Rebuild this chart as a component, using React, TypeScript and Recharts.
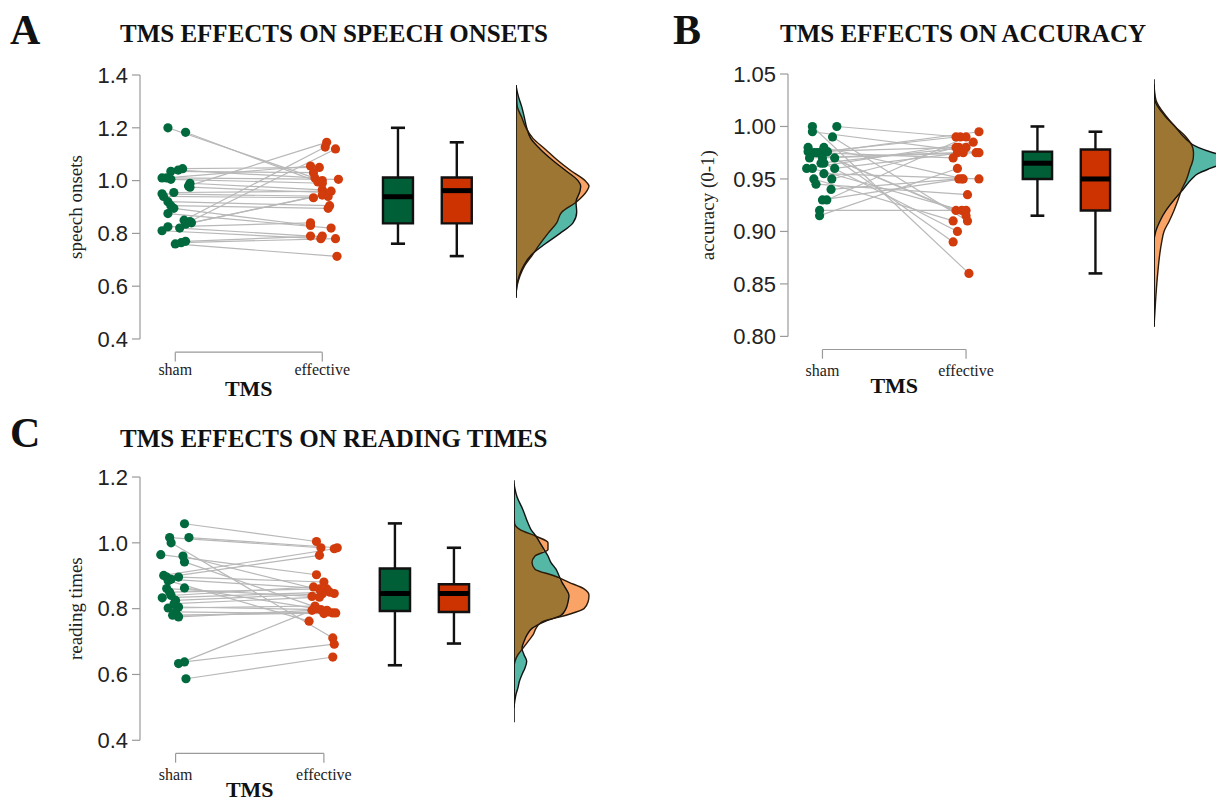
import React from 'react';
import { ComposedChart, Scatter, XAxis, YAxis, ReferenceArea, ReferenceLine, Area, Line } from 'recharts';

const SERIF = '"Liberation Serif", "Times New Roman", serif';
const SANS = '"Liberation Sans", Arial, sans-serif';

const GREEN = '#00693E';
const RED = '#D23B0C';
const BOX_GREEN = '#005F37';
const BOX_RED = '#CC3300';
const TEAL = '#55B7A5';
const ORANGE = '#F9A466';
const BROWN = '#9D7633';
const AXIS = '#9a9a9a';
const PAIR = '#b8b8b8';

const conditions = ['sham', 'effective'];
const panelLetters = ['A', 'B', 'C'];
const panelTitles = ['TMS EFFECTS ON SPEECH ONSETS', 'TMS EFFECTS ON ACCURACY', 'TMS EFFECTS ON READING TIMES'];
const yLabels = ['speech onsets', 'accuracy (0-1)', 'reading times'];

// A: speech onsets
const onsetsSham = [1.200, 1.183, 1.045, 1.040, 1.035, 1.010, 1.005, 1.010, 0.990, 0.980, 0.975, 0.955, 0.950, 0.940, 0.920, 0.905, 0.895, 0.875, 0.850, 0.845, 0.840, 0.835, 0.825, 0.820, 0.810, 0.770, 0.765, 0.760];
const onsetsShamX = [0.95, 1.07, 1.05, 1.02, 0.97, 0.91, 0.97, 0.94, 1.10, 1.09, 1.10, 0.99, 0.91, 0.92, 0.95, 0.97, 0.99, 0.95, 1.06, 1.10, 1.11, 1.07, 0.95, 1.03, 0.91, 1.07, 1.04, 1.00];
const onsetsEff = [1.000, 0.995, 1.050, 1.010, 1.030, 1.005, 0.990, 1.055, 0.965, 1.145, 0.955, 0.960, 0.940, 0.935, 0.905, 0.895, 0.830, 0.820, 1.127, 1.120, 0.950, 0.945, 0.840, 0.790, 0.780, 0.790, 0.780, 0.713];
const onsetsEffX = [2.00, 1.97, 1.98, 1.95, 1.94, 2.11, 2.00, 1.92, 2.00, 2.03, 2.01, 2.06, 2.04, 1.94, 2.05, 2.04, 1.92, 2.06, 2.02, 2.09, 2.03, 2.00, 1.92, 1.92, 1.99, 2.00, 2.09, 2.10];
const onsetsBoxSham = [0.761, 0.838, 0.939, 1.012, 1.200];
const onsetsBoxEff = [0.714, 0.838, 0.962, 1.012, 1.145];
const onsetsGrid = [1.36, 1.32, 1.28, 1.24, 1.20, 1.16, 1.12, 1.08, 1.04, 1.00, 0.98, 0.96, 0.92, 0.88, 0.84, 0.80, 0.76, 0.72, 0.68, 0.64, 0.60, 0.56];
const onsetsDensSham = [0, 2.3, 5.7, 8.3, 10.7, 14.7, 24, 35.7, 49, 62, 64.7, 64, 60, 60.7, 57, 44, 29, 15.7, 8, 3.3, 0.7, 0];
const onsetsDensEff = [0, 0.5, 1.3, 5.7, 10, 17, 29, 40.7, 54, 69, 73, 70.7, 60.7, 45.7, 40.7, 32, 24, 16.7, 9, 4, 1, 0];

// B: accuracy
const accSham = [1.000, 0.995, 1.000, 0.990, 0.980, 0.976, 0.975, 0.975, 0.980, 0.976, 0.970, 0.970, 0.960, 0.960, 0.965, 0.965, 0.960, 0.955, 0.950, 0.945, 0.950, 0.940, 0.930, 0.930, 0.920, 0.915, 0.975, 0.970];
const accShamX = [0.93, 0.93, 1.10, 1.07, 0.90, 0.90, 0.94, 0.98, 1.01, 1.035, 1.085, 0.91, 0.89, 0.93, 0.99, 1.01, 1.085, 1.01, 0.94, 0.955, 1.065, 1.06, 1.00, 1.03, 0.98, 0.98, 0.96, 1.00];
const accEff = [0.860, 0.975, 0.990, 0.910, 0.920, 0.980, 0.990, 0.915, 0.950, 0.995, 0.890, 0.975, 0.985, 0.920, 0.980, 0.900, 0.975, 0.950, 0.910, 0.935, 0.980, 0.950, 0.950, 0.990, 0.920, 0.960, 0.970, 0.975];
const accEffX = [2.02, 2.07, 1.96, 2.01, 1.93, 1.95, 1.93, 2.00, 1.98, 2.09, 1.91, 1.94, 2.05, 1.97, 2.00, 1.94, 1.98, 2.09, 1.91, 2.01, 1.93, 1.95, 1.97, 2.00, 2.00, 1.94, 1.91, 2.09];
const accBoxSham = [0.915, 0.950, 0.965, 0.976, 1.000];
const accBoxEff = [0.860, 0.920, 0.950, 0.978, 0.995];
const accGrid = [1.04, 1.025, 1.01, 1.00, 0.99, 0.98, 0.975, 0.97, 0.965, 0.96, 0.955, 0.95, 0.94, 0.93, 0.92, 0.91, 0.90, 0.89, 0.88, 0.86, 0.84, 0.82, 0.81];
const accDensSham = [0, 1, 11, 21, 30, 44, 59, 80, 70, 56, 44, 37.7, 29, 20, 12, 6, 1.7, 0, 0, 0, 0, 0, 0];
const accDensEff = [0, 2, 12, 21, 32, 38.7, 39.5, 39.3, 38, 36, 34.5, 32.7, 27.7, 24, 20, 15.3, 10, 7.7, 6, 3.7, 2, 0.7, 0];

// C: reading times
const readSham = [1.058, 1.016, 1.000, 1.016, 0.964, 0.960, 0.942, 0.901, 0.896, 0.889, 0.896, 0.861, 0.863, 0.833, 0.840, 0.825, 0.802, 0.805, 0.780, 0.775, 0.790, 0.815, 0.633, 0.638, 0.587, 0.780, 0.850, 0.885];
const readShamX = [1.06, 0.96, 0.97, 1.09, 0.90, 1.05, 1.06, 0.92, 0.94, 0.97, 1.02, 0.94, 1.06, 0.91, 0.97, 1.00, 0.95, 1.02, 0.98, 1.02, 1.00, 0.99, 1.02, 1.06, 1.07, 1.01, 0.96, 0.95];
const readEff = [1.004, 0.985, 0.711, 0.985, 0.903, 0.846, 0.787, 0.982, 0.962, 0.860, 0.881, 0.837, 0.795, 0.850, 0.866, 0.845, 0.808, 0.797, 0.787, 0.795, 0.785, 0.835, 0.800, 0.692, 0.653, 0.790, 0.860, 0.762];
const readEffX = [1.95, 1.98, 2.06, 2.09, 1.95, 2.07, 2.06, 2.07, 1.97, 2.02, 2.00, 1.92, 2.02, 2.04, 1.93, 1.99, 1.94, 1.98, 2.08, 1.92, 2.00, 1.97, 1.95, 2.07, 2.06, 2.03, 1.97, 1.90];
const readBoxSham = [0.628, 0.793, 0.846, 0.922, 1.059];
const readBoxEff = [0.694, 0.790, 0.846, 0.874, 0.985];
const readGrid = [1.18, 1.14, 1.10, 1.06, 1.04, 1.02, 1.00, 0.98, 0.96, 0.94, 0.92, 0.90, 0.88, 0.86, 0.84, 0.82, 0.80, 0.78, 0.76, 0.74, 0.72, 0.70, 0.68, 0.66, 0.64, 0.62, 0.60, 0.58, 0.56, 0.54, 0.52, 0.50];
const readDensSham = [0, 3, 9, 14, 17, 22, 26, 30, 34, 37, 42, 45, 48, 52, 55, 54, 52, 47, 30, 18, 13, 10, 8, 10, 12.7, 11, 8, 5.5, 4, 2, 0.8, 0];
const readDensEff = [0, 0, 0, 0.5, 6, 22, 34, 34, 21, 18, 21, 40, 55, 70, 75, 74, 70, 52, 28, 22, 19, 14, 9, 4, 1, 0, 0, 0, 0, 0, 0, 0];

const X_DOMAIN: [number, number] = [0.76, 3.1];
const BOX_HW = 0.102;
const CAP_HW = 0.048;
const DENS_W = 90;

const panels = [
  {
    axisX: 132, plotTop: 67, plotH: 264, ppu: 147, yAxisW: 80, labelOffset: 15, catMargin: 25,
    yDomain: [0.4, 1.4], yTicks: [0.4, 0.6, 0.8, 1.0, 1.2, 1.4], digits: 1,
    sham: onsetsSham, shamX: onsetsShamX, eff: onsetsEff, effX: onsetsEffX,
    boxX: [2.515, 2.915], boxes: [onsetsBoxSham, onsetsBoxEff],
    densLeft: 508, grid: onsetsGrid, teal: onsetsDensSham, orange: onsetsDensEff, densRange: [1.362, 0.555],
    letter: [2, 36], title: [112, 34],
  },
  {
    axisX: 780.3, plotTop: 66.3, plotH: 262.4, ppu: 143.6, yAxisW: 90, labelOffset: 9, catMargin: 28,
    yDomain: [0.8, 1.05], yTicks: [0.8, 0.85, 0.9, 0.95, 1.0, 1.05], digits: 2,
    sham: accSham, shamX: accShamX, eff: accEff, effX: accEffX,
    boxX: [2.497, 2.901], boxes: [accBoxSham, accBoxEff],
    densLeft: 1146, grid: accGrid, teal: accDensSham, orange: accDensEff, densRange: [1.045, 0.809],
    letter: [665, 36], title: [772, 34],
  },
  {
    axisX: 132, plotTop: 468.7, plotH: 263.3, ppu: 148.3, yAxisW: 80, labelOffset: 15, catMargin: 28,
    yDomain: [0.4, 1.2], yTicks: [0.4, 0.6, 0.8, 1.0, 1.2], digits: 1,
    sham: readSham, shamX: readShamX, eff: readEff, effX: readEffX,
    boxX: [2.479, 2.877], boxes: [readBoxSham, readBoxEff],
    densLeft: 506, grid: readGrid, teal: readDensSham, orange: readDensEff, densRange: [1.19, 0.455],
    letter: [2, 439], title: [112, 439],
  },
];

const dot = (color: string) => (p: any) => <circle cx={p.cx} cy={p.cy} r={4.6} fill={color} />;
const noDot = () => <g />;

function RainPanel({ cfg, idx }: { cfg: any; idx: number }) {
  const mt = 20;
  const xh = 70;
  const plotW = (X_DOMAIN[1] - X_DOMAIN[0]) * cfg.ppu;
  const [y0, y1] = cfg.yDomain;
  const span = y1 - y0;
  const yb = y0 - span * 0.05;
  const yt = y0 - span * 0.085;
  const shamPts = cfg.sham.map((y: number, i: number) => ({ x: cfg.shamX[i], y }));
  const effPts = cfg.eff.map((y: number, i: number) => ({ x: cfg.effX[i], y }));
  const rows = cfg.grid.map((v: number, i: number) => ({
    v,
    teal: cfg.teal[i],
    orange: cfg.orange[i],
    both: Math.min(cfg.teal[i], cfg.orange[i]),
  }));
  const boxFill = [BOX_GREEN, BOX_RED];

  return (
    <>
      <div style={{ position: 'absolute', left: cfg.axisX - cfg.yAxisW, top: cfg.plotTop - mt }}>
        <ComposedChart width={cfg.yAxisW + plotW} height={mt + cfg.plotH + xh} margin={{ top: mt, right: 0, bottom: 0, left: 0 }}>
          <XAxis
            type="number" dataKey="x" domain={X_DOMAIN} allowDataOverflow ticks={[1, 2]} interval={0}
            tickFormatter={(v: number) => conditions[Math.round(v) - 1]}
            axisLine={false} tickLine={false} tickSize={0} tickMargin={cfg.catMargin} height={xh}
            tick={{ fontFamily: SERIF, fontSize: 16, fill: '#222' }}
          />
          <YAxis
            type="number" dataKey="y" domain={cfg.yDomain} allowDataOverflow ticks={cfg.yTicks} interval={0}
            width={cfg.yAxisW} tickFormatter={(v: number) => v.toFixed(cfg.digits)}
            axisLine={{ stroke: AXIS, strokeWidth: 1.2 }} tickLine={{ stroke: AXIS, strokeWidth: 1.2 }}
            tickSize={8} tickMargin={4}
            tick={{ fontFamily: SANS, fontSize: 22, fill: '#222' }}
            label={{
              value: yLabels[idx], angle: -90, position: 'insideLeft', offset: cfg.labelOffset,
              style: { textAnchor: 'middle', fontFamily: SERIF, fontSize: 19, fill: '#222' },
            }}
          />
          <ReferenceLine
            segment={[{ x: 1, y: yb }, { x: 2, y: yb }]} stroke={AXIS} strokeWidth={1.2} ifOverflow="visible"
            label={{ value: 'TMS', position: 'bottom', offset: 28, fontFamily: SERIF, fontSize: 22, fontWeight: 'bold', fill: '#111' }}
          />
          <ReferenceLine segment={[{ x: 1, y: yb }, { x: 1, y: yt }]} stroke={AXIS} strokeWidth={1.2} ifOverflow="visible" />
          <ReferenceLine segment={[{ x: 2, y: yb }, { x: 2, y: yt }]} stroke={AXIS} strokeWidth={1.2} ifOverflow="visible" />

          {shamPts.map((p: any, i: number) => (
            <Scatter
              key={`pair-${i}`} data={[p, effPts[i]]} line={{ stroke: PAIR, strokeWidth: 1.2 }}
              shape={noDot} isAnimationActive={false} legendType="none"
            />
          ))}
          <Scatter data={shamPts} shape={dot(GREEN)} isAnimationActive={false} />
          <Scatter data={effPts} shape={dot(RED)} isAnimationActive={false} />

          {cfg.boxes.map((b: number[], g: number) => {
            const cx = cfg.boxX[g];
            const [lo, q1, med, q3, hi] = b;
            return (
              <React.Fragment key={`box-${g}`}>
                <ReferenceLine segment={[{ x: cx, y: q3 }, { x: cx, y: hi }]} stroke="#111" strokeWidth={2.4} />
                <ReferenceLine segment={[{ x: cx, y: lo }, { x: cx, y: q1 }]} stroke="#111" strokeWidth={2.4} />
                <ReferenceLine segment={[{ x: cx - CAP_HW, y: hi }, { x: cx + CAP_HW, y: hi }]} stroke="#111" strokeWidth={2.6} />
                <ReferenceLine segment={[{ x: cx - CAP_HW, y: lo }, { x: cx + CAP_HW, y: lo }]} stroke="#111" strokeWidth={2.6} />
                <ReferenceArea
                  x1={cx - BOX_HW} x2={cx + BOX_HW} y1={q1} y2={q3}
                  fill={boxFill[g]} fillOpacity={1} stroke="#111" strokeWidth={2.4}
                />
                <ReferenceLine segment={[{ x: cx - BOX_HW, y: med }, { x: cx + BOX_HW, y: med }]} stroke="#000" strokeWidth={5} />
              </React.Fragment>
            );
          })}
        </ComposedChart>
      </div>

      <div style={{ position: 'absolute', left: cfg.densLeft, top: cfg.plotTop - mt }}>
        <ComposedChart
          layout="vertical" width={DENS_W} height={mt + cfg.plotH + mt} data={rows}
          margin={{ top: mt, right: 0, bottom: mt, left: 0 }}
        >
          <XAxis type="number" domain={[0, DENS_W]} allowDataOverflow hide height={0} />
          <YAxis type="number" dataKey="v" domain={cfg.yDomain} allowDataOverflow reversed hide width={0} />
          <Area dataKey="teal" type="monotone" fill={TEAL} fillOpacity={1} stroke="none" isAnimationActive={false} />
          <Area dataKey="orange" type="monotone" fill={ORANGE} fillOpacity={1} stroke="none" isAnimationActive={false} />
          <Area dataKey="both" type="monotone" fill={BROWN} fillOpacity={1} stroke="none" isAnimationActive={false} />
          <Line dataKey="teal" type="monotone" stroke="#111" strokeWidth={1.4} dot={false} isAnimationActive={false} />
          <Line dataKey="orange" type="monotone" stroke="#2a1a0a" strokeWidth={1.4} dot={false} isAnimationActive={false} />
          <ReferenceLine
            segment={[{ x: 0, y: cfg.densRange[0] }, { x: 0, y: cfg.densRange[1] }]}
            stroke="#111" strokeWidth={1.6} ifOverflow="visible"
          />
        </ComposedChart>
      </div>
    </>
  );
}

export default function App() {
  return (
    <div style={{ position: 'relative', width: 1216, height: 794, overflow: 'hidden', background: '#fff' }}>
      {panels.map((cfg, i) => (
        <RainPanel key={i} cfg={cfg} idx={i} />
      ))}
      <svg
        width={1216} height={794}
        style={{ position: 'absolute', left: 0, top: 0, pointerEvents: 'none', overflow: 'visible' }}
      >
        {panels.map((cfg, i) => (
          <g key={i}>
            <text x={cfg.letter[0]} y={cfg.letter[1]} fontFamily={SERIF} fontWeight="bold" fontSize={42} fill="#111">
              {panelLetters[i]}
            </text>
            <text x={cfg.title[0]} y={cfg.title[1]} fontFamily={SERIF} fontWeight="bold" fontSize={25} fill="#111">
              {panelTitles[i]}
            </text>
          </g>
        ))}
      </svg>
    </div>
  );
}
